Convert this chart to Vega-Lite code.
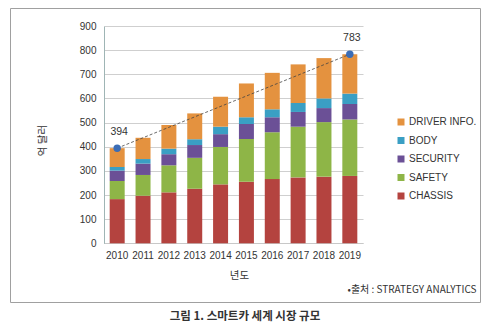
{
  "$schema": "https://vega.github.io/schema/vega-lite/v6.json",
  "width": 470,
  "height": 294,
  "autosize": "none",
  "padding": {"left": 10, "top": 8, "right": 5, "bottom": 29},
  "background": "white",
  "config": {
    "font": "Noto Sans CJK KR",
    "view": {"stroke": "#a0a0a0", "strokeWidth": 1},
    "axis": {"labelFont": "Liberation Sans", "labelFontSize": 10, "labelColor": "#333", "titleFont": "Noto Sans CJK KR", "titleFontWeight": "normal", "titleFontSize": 10.5, "titleColor": "#333"},
    "legend": {"labelFont": "Liberation Sans", "labelFontSize": 10, "labelColor": "#333"}
  },
  "title": {"text": "그림 1. 스마트카 세계 시장 규모", "orient": "bottom", "anchor": "middle", "frame": "group", "offset": 9, "fontSize": 11.5, "fontWeight": "bold", "color": "#333", "font": "Noto Sans CJK KR"},
  "datasets": {
    "parts": [
      {"year": "2010", "part": "CHASSIS", "rank": 1, "value": 183},
      {"year": "2010", "part": "SAFETY", "rank": 2, "value": 75},
      {"year": "2010", "part": "SECURITY", "rank": 3, "value": 43},
      {"year": "2010", "part": "BODY", "rank": 4, "value": 15},
      {"year": "2010", "part": "DRIVER INFO.", "rank": 5, "value": 78},
      {"year": "2011", "part": "CHASSIS", "rank": 1, "value": 197},
      {"year": "2011", "part": "SAFETY", "rank": 2, "value": 86},
      {"year": "2011", "part": "SECURITY", "rank": 3, "value": 47},
      {"year": "2011", "part": "BODY", "rank": 4, "value": 19},
      {"year": "2011", "part": "DRIVER INFO.", "rank": 5, "value": 88},
      {"year": "2012", "part": "CHASSIS", "rank": 1, "value": 211},
      {"year": "2012", "part": "SAFETY", "rank": 2, "value": 112},
      {"year": "2012", "part": "SECURITY", "rank": 3, "value": 46},
      {"year": "2012", "part": "BODY", "rank": 4, "value": 23},
      {"year": "2012", "part": "DRIVER INFO.", "rank": 5, "value": 98},
      {"year": "2013", "part": "CHASSIS", "rank": 1, "value": 226},
      {"year": "2013", "part": "SAFETY", "rank": 2, "value": 128},
      {"year": "2013", "part": "SECURITY", "rank": 3, "value": 53},
      {"year": "2013", "part": "BODY", "rank": 4, "value": 24},
      {"year": "2013", "part": "DRIVER INFO.", "rank": 5, "value": 107},
      {"year": "2014", "part": "CHASSIS", "rank": 1, "value": 244},
      {"year": "2014", "part": "SAFETY", "rank": 2, "value": 155},
      {"year": "2014", "part": "SECURITY", "rank": 3, "value": 53},
      {"year": "2014", "part": "BODY", "rank": 4, "value": 31},
      {"year": "2014", "part": "DRIVER INFO.", "rank": 5, "value": 124},
      {"year": "2015", "part": "CHASSIS", "rank": 1, "value": 255},
      {"year": "2015", "part": "SAFETY", "rank": 2, "value": 177},
      {"year": "2015", "part": "SECURITY", "rank": 3, "value": 62},
      {"year": "2015", "part": "BODY", "rank": 4, "value": 28},
      {"year": "2015", "part": "DRIVER INFO.", "rank": 5, "value": 140},
      {"year": "2016", "part": "CHASSIS", "rank": 1, "value": 266},
      {"year": "2016", "part": "SAFETY", "rank": 2, "value": 194},
      {"year": "2016", "part": "SECURITY", "rank": 3, "value": 62},
      {"year": "2016", "part": "BODY", "rank": 4, "value": 33},
      {"year": "2016", "part": "DRIVER INFO.", "rank": 5, "value": 151},
      {"year": "2017", "part": "CHASSIS", "rank": 1, "value": 273},
      {"year": "2017", "part": "SAFETY", "rank": 2, "value": 210},
      {"year": "2017", "part": "SECURITY", "rank": 3, "value": 61},
      {"year": "2017", "part": "BODY", "rank": 4, "value": 37},
      {"year": "2017", "part": "DRIVER INFO.", "rank": 5, "value": 160},
      {"year": "2018", "part": "CHASSIS", "rank": 1, "value": 276},
      {"year": "2018", "part": "SAFETY", "rank": 2, "value": 226},
      {"year": "2018", "part": "SECURITY", "rank": 3, "value": 58},
      {"year": "2018", "part": "BODY", "rank": 4, "value": 40},
      {"year": "2018", "part": "DRIVER INFO.", "rank": 5, "value": 167},
      {"year": "2019", "part": "CHASSIS", "rank": 1, "value": 279},
      {"year": "2019", "part": "SAFETY", "rank": 2, "value": 234},
      {"year": "2019", "part": "SECURITY", "rank": 3, "value": 64},
      {"year": "2019", "part": "BODY", "rank": 4, "value": 43},
      {"year": "2019", "part": "DRIVER INFO.", "rank": 5, "value": 163}
    ],
    "totals": [
      {"year": "2010", "value": 394},
      {"year": "2019", "value": 783}
    ]
  },
  "resolve": {"axis": {"x": "independent"}},
  "layer": [
    {
      "data": {"name": "parts"},
      "mark": {"type": "bar"},
      "encoding": {
        "x": {
          "field": "year", "type": "ordinal", "title": "년도",
          "scale": {"range": [94, 353], "paddingInner": 0.42, "paddingOuter": 0.22},
          "axis": {"orient": "bottom", "offset": -59, "labelAngle": 0, "ticks": false, "labelPadding": 7, "domainColor": "#c8c8c8", "titlePadding": 10, "titleX": 229}
        },
        "y": {
          "field": "value", "type": "quantitative", "title": "억 달러",
          "scale": {"domain": [0, 900], "range": [235.3, 18], "nice": false, "zero": true},
          "axis": {"orient": "left", "offset": -94, "values": [0, 100, 200, 300, 400, 500, 600, 700, 800, 900], "tickCount": 10, "labelOverlap": false, "labelBound": false, "ticks": false, "labelPadding": 8, "grid": true, "gridColor": "#cfcfcf", "domainColor": "#9fb5b5", "titleX": -62, "titleY": 132, "titleBaseline": "middle"}
        },
        "color": {
          "field": "part", "type": "nominal",
          "scale": {"domain": ["DRIVER INFO.", "BODY", "SECURITY", "SAFETY", "CHASSIS"], "range": ["#E4923F", "#3A9FC4", "#6B5096", "#8EB547", "#B4433F"]},
          "legend": {"title": null, "orient": "none", "legendX": 386, "legendY": 109, "symbolType": "square", "symbolSize": 49, "symbolStrokeWidth": 0, "rowPadding": 8.5, "labelOffset": 3, "padding": 0}
        },
        "order": {"field": "rank", "type": "quantitative"}
      }
    },
    {
      "data": {"name": "totals"},
      "encoding": {
        "x": {
          "field": "year", "type": "ordinal",
          "axis": {"orient": "top", "labels": false, "ticks": false, "domain": false, "grid": false, "title": "•출처 : STRATEGY ANALYTICS", "titleFont": "Noto Sans CJK KR", "titleFontSize": 10, "titleAlign": "right", "titleAnchor": null, "titleBaseline": "middle", "titleX": 466, "titleY": 281, "titleAngle": 0}
        },
        "y": {
          "field": "value", "type": "quantitative", "title": "억 달러",
          "axis": {"orient": "left", "offset": -94, "values": [0, 100, 200, 300, 400, 500, 600, 700, 800, 900], "tickCount": 10, "labelOverlap": false, "labelBound": false, "ticks": false, "labelPadding": 8, "grid": true, "gridColor": "#cfcfcf", "domainColor": "#9fb5b5", "titleX": -62, "titleY": 132, "titleBaseline": "middle"}
        }
      },
      "layer": [
        {"mark": {"type": "line", "color": "#444", "strokeWidth": 0.8, "strokeDash": [3, 2]}},
        {"mark": {"type": "circle", "color": "#3B6DB6", "size": 55, "opacity": 1}},
        {"mark": {"type": "text", "dy": -16, "dx": 2, "fontSize": 10.5, "font": "Liberation Sans", "color": "#333"}, "encoding": {"text": {"field": "value", "type": "quantitative"}}}
      ]
    }
  ]
}
